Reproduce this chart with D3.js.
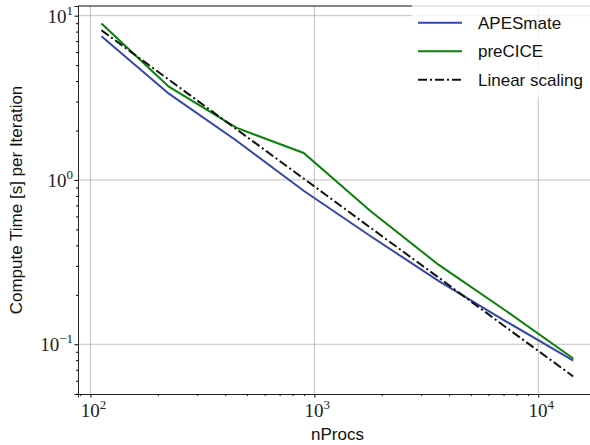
<!DOCTYPE html>
<html>
<head>
<meta charset="utf-8">
<script src="https://cdn.jsdelivr.net/npm/d3@7"></script>
<style>
  body { margin: 0; background: #fff; }
  svg { display: block; }
  .tick-label { font-family: "Liberation Serif", "DejaVu Serif", serif; fill: #222; }
  .lab { font-family: "Liberation Sans", "DejaVu Sans", sans-serif; fill: #111; }
</style>
</head>
<body>
<div id="chart"></div>
<script>
// data (log-log)
var nProcs = [112, 224, 448, 896, 1792, 3584, 7168, 14336];
var apesmate = [7.5, 3.35, 1.74, 0.86, 0.453, 0.243, 0.138, 0.0796];
var precice = [8.96, 3.7, 2.08, 1.46, 0.643, 0.305, 0.16, 0.0819];
var linearScaling = [8.15, 4.075, 2.04, 1.02, 0.509, 0.255, 0.127, 0.0637];

var xTicks = [100, 1000, 10000];
var yTicks = [0.1, 1, 10];

var series = [
  { name: "APESmate", values: apesmate, color: "#3447a8", dash: null },
  { name: "preCICE", values: precice, color: "#0a800a", dash: null },
  { name: "Linear scaling", values: linearScaling, color: "#111", dash: "9,3,2,3" }
];

var width = 590, height = 445;
var margin = { left: 78, right: -7, top: 6, bottom: 51 };

var svg = d3.select("#chart").append("svg")
  .attr("width", width)
  .attr("height", height);

var x = d3.scaleLog()
  .domain([88.0, 18300])
  .range([margin.left, width - margin.right]);

var y = d3.scaleLog()
  .domain([0.0498, 11.45])
  .range([height - margin.bottom, margin.top]);

// minor tick values
function minors(lo, hi) {
  var out = [];
  for (var e = Math.floor(Math.log10(lo)); e <= Math.ceil(Math.log10(hi)); e++) {
    for (var k = 2; k <= 9; k++) {
      var v = k * Math.pow(10, e);
      if (v >= lo && v <= hi) out.push(v);
    }
  }
  return out;
}

// grid
var grid = svg.append("g");
grid.selectAll(".gx").data(xTicks).enter().append("line")
  .attr("x1", function(d) { return x(d); })
  .attr("x2", function(d) { return x(d); })
  .attr("y1", y.range()[0]).attr("y2", y.range()[1])
  .attr("stroke", "#b0b0b0").attr("stroke-width", 0.8);
grid.selectAll(".gy").data(yTicks).enter().append("line")
  .attr("y1", function(d) { return y(d); })
  .attr("y2", function(d) { return y(d); })
  .attr("x1", x.range()[0]).attr("x2", x.range()[1])
  .attr("stroke", "#b0b0b0").attr("stroke-width", 0.8);

// lines
var line = d3.line()
  .x(function(d, i) { return x(nProcs[i]); })
  .y(function(d) { return y(d); });

svg.selectAll(".series").data(series).enter().append("path")
  .attr("d", function(s) { return line(s.values); })
  .attr("fill", "none")
  .attr("stroke", function(s) { return s.color; })
  .attr("stroke-width", 2)
  .attr("stroke-dasharray", function(s) { return s.dash; });

// axes
var xAxis = d3.axisBottom(x).tickValues(xTicks).tickSize(3.5).tickFormat("");
var xMinor = d3.axisBottom(x).tickValues(minors(88, 18300)).tickSize(2).tickFormat("");
var yAxis = d3.axisLeft(y).tickValues(yTicks).tickSize(3.5).tickFormat("");
var yMinor = d3.axisLeft(y).tickValues(minors(0.0498, 11.45)).tickSize(2).tickFormat("");

[xAxis, xMinor].forEach(function(a) {
  svg.append("g")
    .attr("transform", "translate(0," + (height - margin.bottom) + ")")
    .call(a)
    .call(function(g) { g.select(".domain").attr("stroke", "#222").attr("stroke-width", 1); });
});
[yAxis, yMinor].forEach(function(a) {
  svg.append("g")
    .attr("transform", "translate(" + margin.left + ",0)")
    .call(a)
    .call(function(g) { g.select(".domain").attr("stroke", "#222").attr("stroke-width", 1); });
});

// top spine
svg.append("line")
  .attr("x1", margin.left).attr("x2", width)
  .attr("y1", margin.top).attr("y2", margin.top)
  .attr("stroke", "#111").attr("stroke-width", 1);

// tick labels as 10^n
function powLabel(g, v, px, py, anchor) {
  var e = Math.round(Math.log10(v));
  var t = g.append("text")
    .attr("class", "tick-label")
    .attr("x", px).attr("y", py)
    .attr("text-anchor", anchor)
    .attr("font-size", 19);
  t.append("tspan").text("10");
  t.append("tspan")
    .attr("font-size", 13)
    .attr("dy", -8)
    .text(e < 0 ? "\u2212" + Math.abs(e) : e);
}
var tl = svg.append("g");
xTicks.forEach(function(v) { powLabel(tl, v, x(v) + 3, 417, "middle"); });
yTicks.forEach(function(v) { powLabel(tl, v, margin.left - 5, y(v) + 7, "end"); });

// axis titles
svg.append("text")
  .attr("class", "lab")
  .attr("x", (x.range()[0] + x.range()[1]) / 2)
  .attr("y", 440)
  .attr("text-anchor", "middle")
  .attr("font-size", 17)
  .text("nProcs");

svg.append("text")
  .attr("class", "lab")
  .attr("transform", "translate(22," + ((y.range()[0] + y.range()[1]) / 2) + ") rotate(-90)")
  .attr("text-anchor", "middle")
  .attr("font-size", 17)
  .text("Compute Time [s] per Iteration");

// legend
var legend = svg.append("g");
legend.append("rect")
  .attr("x", 412).attr("y", 0)
  .attr("width", 190).attr("height", 97)
  .attr("fill", "#fff").attr("fill-opacity", 0.8);

var rows = legend.selectAll(".row").data(series).enter().append("g")
  .attr("transform", function(d, i) { return "translate(0," + (22.7 + i * 28.5) + ")"; });
rows.append("line")
  .attr("x1", 418).attr("x2", 462)
  .attr("stroke", function(s) { return s.color; })
  .attr("stroke-width", 2)
  .attr("stroke-dasharray", function(s) { return s.dash; });
rows.append("text")
  .attr("class", "lab")
  .attr("x", 478).attr("y", 6)
  .attr("font-size", 17)
  .text(function(s) { return s.name; });
</script>
</body>
</html>
